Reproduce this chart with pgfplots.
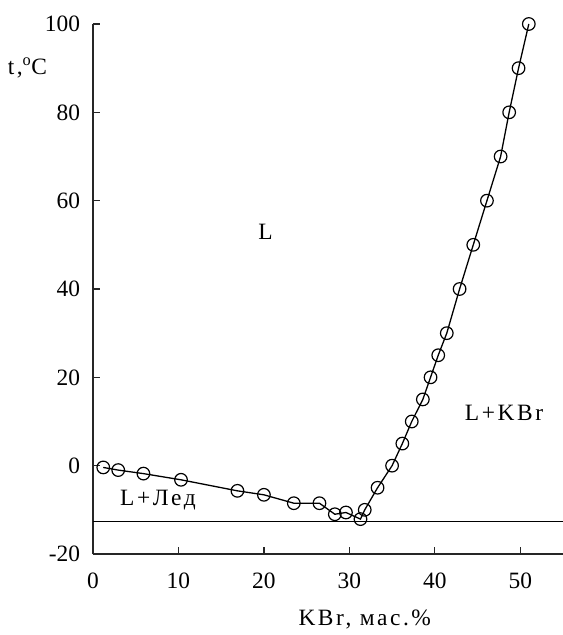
\documentclass[border=0pt]{standalone}
\usepackage{pgfplots}
\pgfplotsset{compat=1.18}
\usetikzlibrary{calc}
\usepackage{fontspec}
\setmainfont{Liberation Serif}
\newfontfamily\spaced[LetterSpace=11]{Liberation Serif}
\begin{document}
\fontsize{23.5}{28}\selectfont
\begin{tikzpicture}
\begin{axis}[
  name=ax,
  scale only axis,
  width=470bp, height=530bp,
  xmin=0, xmax=55, ymin=-20, ymax=100,
  axis x line=bottom, axis y line=left,
  axis line style={-, line width=1.3bp, black!85},
  xtick={0,10,...,50}, ytick={-20,0,...,100},
  tick align=inside,
  major tick length=7bp,
  tick style={line width=1.2bp, black!85},
  /pgf/number format/assume math mode=true,
  ticklabel style={font=\fontsize{23.5}{28}\selectfont},
  xticklabel style={yshift=-11bp},
  yticklabel style={xshift=-5bp},
  clip=false,
]
\addplot[black, line width=1.1bp] coordinates {(0,-12.6) (55,-12.6)};
\addplot[black, line width=1.3bp, mark=o, mark size=6.3bp,
  mark options={fill=white, line width=1.2bp}] coordinates {
(1.2,-0.4) (2.95,-1.0) (5.9,-1.8) (10.3,-3.2) (16.9,-5.7) (20.0,-6.6)
(23.5,-8.5) (26.5,-8.5) (28.3,-11.0) (29.6,-10.6) (31.3,-12.1)
(31.8,-10.0) (33.3,-5.0) (35.0,0) (36.2,5) (37.3,10) (38.6,15)
(39.5,20) (40.4,25) (41.4,30) (42.9,40) (44.5,50) (46.1,60)
(47.7,70) (48.7,80) (49.8,90) (51.0,100)
};
\node[font=\spaced] at (axis cs:20.2,52.9) {L};
\node[font=\spaced] at (axis cs:7.6,-7.9) {L+Лед};
\node[font=\spaced] at (axis cs:48.1,11.9) {L+KBr};
\node[anchor=east, font=\spaced] at (axis cs:0,90) [xshift=-38bp] {t,\textsuperscript{o}C};
\node[font=\spaced] at (axis cs:31.8,-20) [yshift=-66bp] {KBr, мас.\%};
\end{axis}
\pgfresetboundingbox
\path ($(ax.south west)+(-93bp,-81bp)$) rectangle ($(ax.north east)+(0bp,24bp)$);
\end{tikzpicture}
\end{document}
